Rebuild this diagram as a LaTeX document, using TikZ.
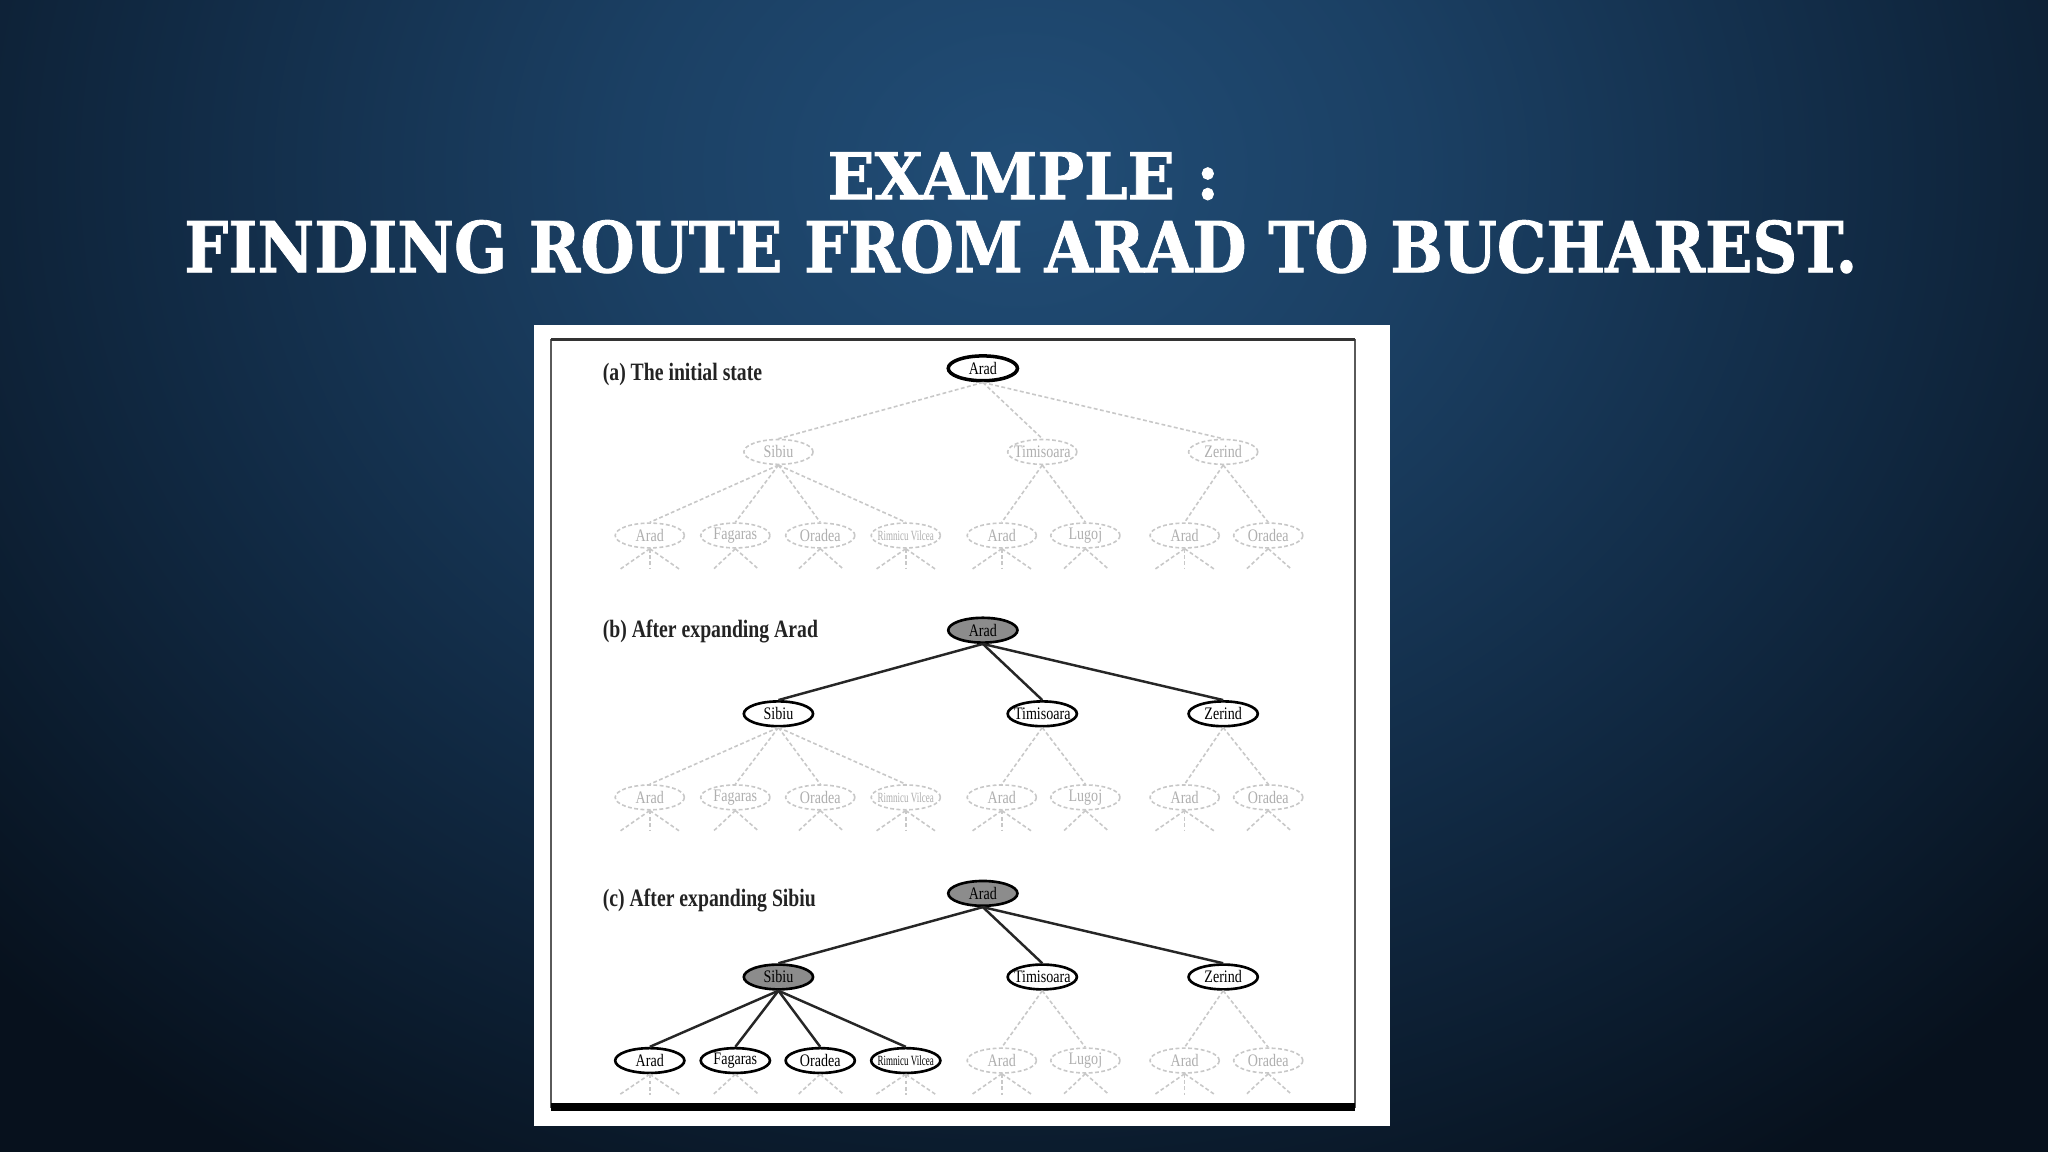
\documentclass[tikz,border=0pt]{standalone}
\usepackage{fontspec}
\usepackage{graphicx}
\setmainfont{Liberation Serif}
\newfontfamily\titlefont{DejaVu Serif}[BoldFeatures={FakeBold=1.2}]
\usetikzlibrary{shapes.geometric}
\definecolor{bgA}{RGB}{33,77,118}
\definecolor{bgB}{RGB}{27,64,100}
\definecolor{bgC}{RGB}{17,42,68}
\definecolor{bgD}{RGB}{7,17,29}
\definecolor{fadec}{RGB}{200,200,200}
\definecolor{fadet}{RGB}{175,175,175}
\definecolor{expc}{RGB}{140,140,140}
\definecolor{lblc}{RGB}{35,35,35}
\definecolor{framec}{RGB}{90,90,90}
\pgfdeclareradialshading{bgshade}{\pgfpoint{0bp}{0bp}}{color(0bp)=(bgA); color(5bp)=(bgB); color(11bp)=(bgC); color(18bp)=(bgD); color(50bp)=(bgD)}
\newlength\dpx
\setlength\dpx{0.0130612cm}
\newcommand\nl[1]{\makebox[0pt]{\scalebox{0.8}[1]{#1}}}
\newcommand\nlsmall[1]{\makebox[0pt]{\fontsize{4}{4}\selectfont\scalebox{0.64}[1]{#1}}}
\tikzset{
  treenode/.style={ellipse, minimum width=53\dpx, minimum height=19\dpx, inner sep=0pt, fill=white, font=\fontsize{5}{5}\selectfont},
  solidnode/.style={treenode, draw=black, line width=0.75pt, text=black},
  rootnode/.style={treenode, draw=black, line width=1pt, text=black},
  expnode/.style={treenode, draw=black, line width=0.75pt, fill=expc, text=black},
  fadenode/.style={treenode, draw=fadec, line width=0.45pt, dash pattern=on 1.1pt off 0.7pt, text=fadet},
  solidline/.style={draw=black!85, line width=0.7pt},
  fadeline/.style={draw=fadec, line width=0.45pt, dash pattern=on 1.1pt off 0.7pt},
  panlbl/.style={anchor=base west, inner sep=0pt, text=lblc, font=\fontsize{7.1}{8}\selectfont\bfseries},
  titletext/.style={anchor=base west, inner sep=0pt, text=white}
}
\newcommand\stubs[4]{%
  \foreach \dx [count=\k] in {#4} {
    \coordinate (#1-st\k) at (#2+\dx,#3+26);
    \draw[fadeline] (#1.south) -- (#1-st\k);
  }}
\newcommand\searchtree[2]{%
  \node[t0] (#1r) at (752.5,#2) {\nl{Arad}};
  \node[t1s] (#1s) at (596,#2+64) {\nl{Sibiu}};
  \node[t1o] (#1t) at (798,#2+64) {\nl{Timisoara}};
  \node[t1o] (#1z) at (936.5,#2+64) {\nl{Zerind}};
  \node[t2s] (#1sa) at (497.5,#2+128) {\nl{Arad}};
  \node[t2s] (#1sf) at (563,#2+128) {\nl{Fagaras}};
  \node[t2s] (#1so) at (628,#2+128) {\nl{Oradea}};
  \node[t2s] (#1sr) at (693.5,#2+128) {\nlsmall{Rimnicu Vilcea}};
  \node[t2o] (#1ta) at (767,#2+128) {\nl{Arad}};
  \node[t2o] (#1tl) at (831,#2+128) {\nl{Lugoj}};
  \node[t2o] (#1za) at (907,#2+128) {\nl{Arad}};
  \node[t2o] (#1zo) at (971,#2+128) {\nl{Oradea}};
  \draw[e0] (#1r.south) -- (#1s.north);
  \draw[e0] (#1r.south) -- (#1t.north);
  \draw[e0] (#1r.south) -- (#1z.north);
  \draw[e1s] (#1s.south) -- (#1sa.north);
  \draw[e1s] (#1s.south) -- (#1sf.north);
  \draw[e1s] (#1s.south) -- (#1so.north);
  \draw[e1s] (#1s.south) -- (#1sr.north);
  \draw[e1o] (#1t.south) -- (#1ta.north);
  \draw[e1o] (#1t.south) -- (#1tl.north);
  \draw[e1o] (#1z.south) -- (#1za.north);
  \draw[e1o] (#1z.south) -- (#1zo.north);
  \stubs{#1sa}{497.5}{#2+128}{-23,0,23}
  \stubs{#1sf}{563}{#2+128}{-17,18}
  \stubs{#1so}{628}{#2+128}{-17,18}
  \stubs{#1sr}{693.5}{#2+128}{-23,0,23}
  \stubs{#1ta}{767}{#2+128}{-23,0,23}
  \stubs{#1tl}{831}{#2+128}{-17,18}
  \stubs{#1za}{907}{#2+128}{-23,0,23}
  \stubs{#1zo}{971}{#2+128}{-17,18}
}
\begin{document}
\begin{tikzpicture}[x=0.0130612cm, y=-0.0130612cm]
  \useasboundingbox (0,0) rectangle (1568,882);
  % background
  \fill[bgD] (0,0) rectangle (1568,882);
  \begin{scope}
    \clip (0,0) rectangle (1568,882);
    \shade[shading=bgshade] (-720,-1120) rectangle (2280,1380);
  \end{scope}
  % title
  \node[titletext] (title1) at (633,152.5) {\resizebox{300\dpx}{36\dpx}{\titlefont\bfseries EXAMPLE :}};
  \node[titletext] (title2) at (140.5,208.5) {\resizebox{1281\dpx}{40\dpx}{\titlefont\bfseries FINDING ROUTE FROM ARAD TO BUCHAREST.}};
  % panel
  \fill[white] (409,249) rectangle (1064,862);
  \draw[framec, line width=0.45pt] (422,260) rectangle (1037.5,848);
  \draw[black!80, line width=0.9pt] (422,260) -- (1037.5,260);
  \fill[black] (422,844.5) rectangle (1037.5,850.5);
  % labels
  \node[panlbl] (la) at (461,291) {\scalebox{0.79}[1]{(a) The initial state}};
  \node[panlbl] (lb) at (461,488) {\scalebox{0.79}[1]{(b) After expanding Arad}};
  \node[panlbl] (lc) at (461,694) {\scalebox{0.79}[1]{(c) After expanding Sibiu}};
  % tree (a)
  \tikzset{t0/.style={rootnode}, t1s/.style={fadenode}, t1o/.style={fadenode},
    t2s/.style={fadenode}, t2o/.style={fadenode},
    e0/.style={fadeline}, e1s/.style={fadeline}, e1o/.style={fadeline}}
  \searchtree{a}{282}
  % tree (b)
  \tikzset{t0/.style={expnode}, t1s/.style={solidnode}, t1o/.style={solidnode},
    t2s/.style={fadenode}, t2o/.style={fadenode},
    e0/.style={solidline}, e1s/.style={fadeline}, e1o/.style={fadeline}}
  \searchtree{b}{482.5}
  % tree (c)
  \tikzset{t0/.style={expnode}, t1s/.style={expnode}, t1o/.style={solidnode},
    t2s/.style={solidnode}, t2o/.style={fadenode},
    e0/.style={solidline}, e1s/.style={solidline}, e1o/.style={fadeline}}
  \searchtree{c}{684}
\end{tikzpicture}
\end{document}
